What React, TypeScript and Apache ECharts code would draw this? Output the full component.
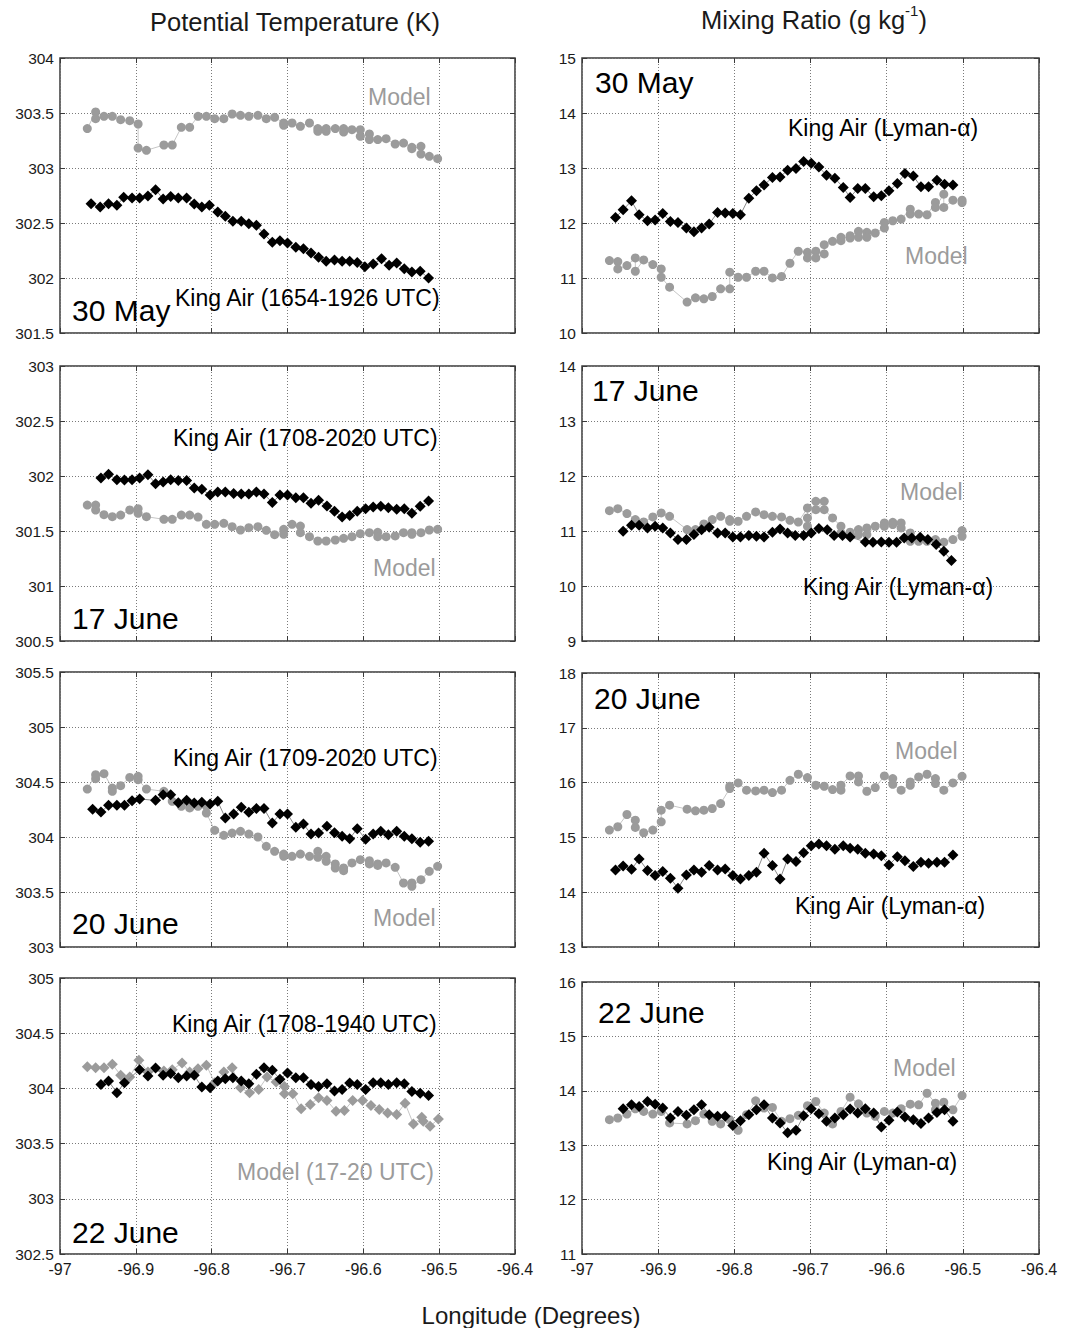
import React, { useEffect, useRef } from "react";
import * as echarts from "echarts";

const FONT = '"Liberation Sans", Arial, Helvetica, sans-serif';

// Longitude axis shared by all panels
const lonMin = -97;
const lonMax = -96.4;
const lonStep = 0.1;

// Y ranges: [min, max, step]
const thetaRanges = [
  [301.5, 304, 0.5],
  [300.5, 303, 0.5],
  [303, 305.5, 0.5],
  [302.5, 305, 0.5],
];
const mixRanges = [
  [10, 15, 1],
  [9, 14, 1],
  [13, 18, 1],
  [11, 16, 1],
];

const dates = ["30 May", "17 June", "20 June", "22 June"];
const thetaKingAirLabels = [
  "King Air (1654-1926 UTC)",
  "King Air (1708-2020 UTC)",
  "King Air (1709-2020 UTC)",
  "King Air (1708-1940 UTC)",
];
const thetaModelLabels = ["Model", "Model", "Model", "Model (17-20 UTC)"];
const mixKingAirLabel = "King Air (Lyman-\u03b1)";
const mixModelLabel = "Model";

// ---- Potential temperature (K): [longitude, value] ----
const may30ThetaKingAir = [
  [-96.959, 302.676], [-96.947, 302.645], [-96.936, 302.676], [-96.925, 302.661], [-96.916, 302.733],
  [-96.905, 302.727], [-96.895, 302.727], [-96.884, 302.745], [-96.874, 302.803], [-96.864, 302.718],
  [-96.854, 302.742], [-96.844, 302.727], [-96.833, 302.727], [-96.823, 302.673], [-96.813, 302.645],
  [-96.803, 302.661], [-96.792, 302.6], [-96.782, 302.561], [-96.772, 302.515], [-96.761, 302.515],
  [-96.751, 302.494], [-96.741, 302.479], [-96.731, 302.4], [-96.72, 302.324], [-96.71, 302.339],
  [-96.7, 302.318], [-96.689, 302.279], [-96.679, 302.267], [-96.669, 302.227], [-96.659, 302.188],
  [-96.649, 302.152], [-96.638, 302.164], [-96.628, 302.152], [-96.618, 302.152], [-96.608, 302.142],
  [-96.598, 302.103], [-96.587, 302.127], [-96.576, 302.176], [-96.566, 302.115], [-96.556, 302.136],
  [-96.546, 302.085], [-96.536, 302.055], [-96.525, 302.061], [-96.514, 302.0],
];
const may30ThetaModel = [
  [-96.964, 303.358], [-96.953, 303.509], [-96.953, 303.448], [-96.942, 303.47], [-96.931, 303.47],
  [-96.92, 303.439], [-96.908, 303.43], [-96.897, 303.4], [-96.897, 303.182], [-96.886, 303.161],
  [-96.863, 303.209], [-96.852, 303.209], [-96.84, 303.37], [-96.829, 303.37], [-96.818, 303.47],
  [-96.807, 303.47], [-96.796, 303.448], [-96.784, 303.448], [-96.773, 303.491], [-96.762, 303.479],
  [-96.751, 303.47], [-96.739, 303.479], [-96.728, 303.448], [-96.717, 303.461], [-96.705, 303.409],
  [-96.705, 303.388], [-96.694, 303.409], [-96.683, 303.379], [-96.671, 303.409], [-96.66, 303.358],
  [-96.66, 303.333], [-96.649, 303.333], [-96.649, 303.358], [-96.637, 303.358], [-96.626, 303.358],
  [-96.626, 303.327], [-96.615, 303.348], [-96.604, 303.348], [-96.604, 303.288], [-96.592, 303.309],
  [-96.592, 303.258], [-96.581, 303.258], [-96.57, 303.267], [-96.558, 303.218], [-96.547, 303.227],
  [-96.536, 303.188], [-96.536, 303.176], [-96.524, 303.197], [-96.524, 303.127], [-96.513, 303.106],
  [-96.502, 303.085],
];
const jun17ThetaKingAir = [
  [-96.946, 301.982], [-96.936, 302.015], [-96.925, 301.967], [-96.915, 301.964], [-96.905, 301.967],
  [-96.895, 301.982], [-96.884, 302.012], [-96.874, 301.93], [-96.864, 301.945], [-96.854, 301.967],
  [-96.844, 301.958], [-96.833, 301.958], [-96.823, 301.891], [-96.813, 301.879], [-96.802, 301.827],
  [-96.792, 301.855], [-96.782, 301.855], [-96.771, 301.842], [-96.761, 301.836], [-96.751, 301.836],
  [-96.741, 301.855], [-96.731, 301.836], [-96.72, 301.758], [-96.71, 301.827], [-96.7, 301.827],
  [-96.689, 301.803], [-96.679, 301.803], [-96.669, 301.752], [-96.659, 301.779], [-96.648, 301.727],
  [-96.638, 301.679], [-96.628, 301.627], [-96.618, 301.642], [-96.608, 301.679], [-96.597, 301.703],
  [-96.587, 301.718], [-96.577, 301.724], [-96.567, 301.712], [-96.556, 301.697], [-96.546, 301.703],
  [-96.536, 301.661], [-96.525, 301.724], [-96.514, 301.773],
];
const jun17ThetaModel = [
  [-96.964, 301.736], [-96.953, 301.736], [-96.953, 301.691], [-96.942, 301.648], [-96.931, 301.63],
  [-96.92, 301.645], [-96.908, 301.691], [-96.897, 301.703], [-96.897, 301.661], [-96.886, 301.63],
  [-96.863, 301.606], [-96.852, 301.606], [-96.84, 301.645], [-96.829, 301.645], [-96.818, 301.627],
  [-96.807, 301.561], [-96.796, 301.561], [-96.784, 301.57], [-96.773, 301.539], [-96.762, 301.509],
  [-96.751, 301.53], [-96.739, 301.539], [-96.728, 301.506], [-96.717, 301.467], [-96.705, 301.515],
  [-96.705, 301.47], [-96.694, 301.561], [-96.683, 301.545], [-96.683, 301.485], [-96.671, 301.448],
  [-96.66, 301.409], [-96.649, 301.409], [-96.637, 301.418], [-96.626, 301.433], [-96.615, 301.448],
  [-96.604, 301.476], [-96.592, 301.485], [-96.581, 301.488], [-96.581, 301.448], [-96.57, 301.448],
  [-96.558, 301.455], [-96.547, 301.485], [-96.536, 301.485], [-96.536, 301.47], [-96.524, 301.485],
  [-96.513, 301.509], [-96.502, 301.515],
];
const jun20ThetaKingAir = [
  [-96.957, 304.252], [-96.946, 304.227], [-96.936, 304.288], [-96.925, 304.288], [-96.915, 304.288],
  [-96.905, 304.33], [-96.895, 304.345], [-96.874, 304.333], [-96.864, 304.385], [-96.854, 304.385],
  [-96.844, 304.312], [-96.833, 304.333], [-96.823, 304.309], [-96.813, 304.315], [-96.802, 304.3],
  [-96.792, 304.324], [-96.782, 304.173], [-96.771, 304.209], [-96.761, 304.27], [-96.751, 304.224],
  [-96.741, 304.258], [-96.731, 304.258], [-96.72, 304.127], [-96.71, 304.209], [-96.7, 304.209],
  [-96.689, 304.088], [-96.679, 304.118], [-96.669, 304.027], [-96.659, 304.036], [-96.648, 304.097],
  [-96.638, 304.039], [-96.628, 304.006], [-96.618, 303.985], [-96.608, 304.076], [-96.597, 303.979],
  [-96.587, 304.027], [-96.577, 304.052], [-96.567, 304.021], [-96.556, 304.052], [-96.546, 304.006],
  [-96.536, 303.985], [-96.525, 303.952], [-96.514, 303.961],
];
const jun20ThetaModel = [
  [-96.964, 304.436], [-96.953, 304.567], [-96.953, 304.53], [-96.942, 304.576], [-96.931, 304.445],
  [-96.931, 304.415], [-96.92, 304.467], [-96.908, 304.542], [-96.897, 304.552], [-96.897, 304.521],
  [-96.886, 304.436], [-96.863, 304.415], [-96.852, 304.324], [-96.84, 304.279], [-96.829, 304.264],
  [-96.818, 304.279], [-96.807, 304.279], [-96.807, 304.218], [-96.796, 304.061], [-96.784, 304.015],
  [-96.773, 304.036], [-96.762, 304.052], [-96.751, 304.027], [-96.739, 304.0], [-96.728, 303.915],
  [-96.717, 303.87], [-96.705, 303.845], [-96.705, 303.824], [-96.694, 303.824], [-96.683, 303.845],
  [-96.671, 303.824], [-96.66, 303.87], [-96.66, 303.815], [-96.649, 303.824], [-96.649, 303.779],
  [-96.637, 303.755], [-96.637, 303.718], [-96.626, 303.718], [-96.626, 303.694], [-96.615, 303.764],
  [-96.604, 303.794], [-96.592, 303.785], [-96.592, 303.755], [-96.581, 303.755], [-96.581, 303.742],
  [-96.57, 303.764], [-96.558, 303.724], [-96.547, 303.582], [-96.536, 303.582], [-96.536, 303.552],
  [-96.524, 303.612], [-96.513, 303.688], [-96.502, 303.733],
];
const jun22ThetaKingAir = [
  [-96.946, 304.036], [-96.936, 304.067], [-96.925, 303.96], [-96.915, 304.052], [-96.895, 304.17],
  [-96.884, 304.112], [-96.874, 304.185], [-96.864, 304.119], [-96.854, 304.134], [-96.844, 304.097],
  [-96.833, 304.112], [-96.823, 304.119], [-96.813, 304.012], [-96.802, 304.006], [-96.792, 304.067],
  [-96.782, 304.088], [-96.772, 304.097], [-96.761, 304.067], [-96.751, 304.043], [-96.741, 304.128],
  [-96.731, 304.188], [-96.72, 304.164], [-96.71, 304.082], [-96.7, 304.14], [-96.689, 304.097],
  [-96.679, 304.097], [-96.669, 304.036], [-96.659, 304.018], [-96.648, 304.043], [-96.638, 303.976],
  [-96.628, 303.991], [-96.618, 304.049], [-96.608, 304.036], [-96.597, 303.991], [-96.587, 304.052],
  [-96.577, 304.052], [-96.567, 304.036], [-96.556, 304.052], [-96.546, 304.043], [-96.536, 303.973],
  [-96.525, 303.957], [-96.514, 303.936],
];
const jun22ThetaModel = [
  [-96.964, 304.195], [-96.953, 304.188], [-96.942, 304.188], [-96.931, 304.219], [-96.92, 304.119],
  [-96.908, 304.103], [-96.896, 304.255], [-96.884, 304.149], [-96.863, 304.158], [-96.852, 304.17],
  [-96.839, 304.231], [-96.829, 304.149], [-96.818, 304.179], [-96.807, 304.21], [-96.796, 304.052],
  [-96.784, 304.149], [-96.773, 304.188], [-96.762, 304.006], [-96.75, 303.96], [-96.738, 303.991],
  [-96.727, 304.103], [-96.715, 304.058], [-96.704, 304.018], [-96.704, 303.951], [-96.693, 303.951],
  [-96.682, 303.815], [-96.67, 303.854], [-96.659, 303.915], [-96.648, 303.891], [-96.636, 303.793],
  [-96.625, 303.799], [-96.614, 303.891], [-96.601, 303.891], [-96.59, 303.845], [-96.579, 303.809],
  [-96.568, 303.778], [-96.556, 303.763], [-96.545, 303.866], [-96.534, 303.678], [-96.523, 303.739],
  [-96.521, 303.702], [-96.512, 303.657], [-96.501, 303.723],
];

// ---- Mixing ratio (g/kg): [longitude, value] ----
const may30MixKingAir = [
  [-96.956, 12.101], [-96.946, 12.24], [-96.935, 12.403], [-96.925, 12.15], [-96.914, 12.041],
  [-96.904, 12.053], [-96.894, 12.174], [-96.884, 12.029], [-96.874, 12.011], [-96.863, 11.908],
  [-96.853, 11.842], [-96.843, 11.908], [-96.833, 11.981], [-96.822, 12.192], [-96.812, 12.18],
  [-96.802, 12.174], [-96.792, 12.15], [-96.781, 12.452], [-96.771, 12.585], [-96.761, 12.693],
  [-96.75, 12.826], [-96.74, 12.838], [-96.73, 12.959], [-96.719, 12.989], [-96.709, 13.116],
  [-96.699, 13.086], [-96.689, 13.019], [-96.679, 12.868], [-96.668, 12.814], [-96.657, 12.645],
  [-96.648, 12.464], [-96.638, 12.627], [-96.628, 12.627], [-96.617, 12.476], [-96.607, 12.494],
  [-96.597, 12.585], [-96.586, 12.717], [-96.576, 12.899], [-96.565, 12.856], [-96.555, 12.657],
  [-96.545, 12.657], [-96.534, 12.778], [-96.524, 12.705], [-96.513, 12.693],
];
const may30MixModel = [
  [-96.964, 11.316], [-96.953, 11.298], [-96.953, 11.165], [-96.941, 11.226], [-96.93, 11.365],
  [-96.93, 11.123], [-96.919, 11.329], [-96.907, 11.244], [-96.896, 11.165], [-96.896, 11.014],
  [-96.885, 10.833], [-96.862, 10.562], [-96.851, 10.64], [-96.84, 10.622], [-96.829, 10.664],
  [-96.818, 10.803], [-96.806, 10.803], [-96.806, 11.105], [-96.795, 11.014], [-96.784, 11.014],
  [-96.772, 11.123], [-96.761, 11.123], [-96.75, 11.002], [-96.738, 11.027], [-96.727, 11.268],
  [-96.716, 11.486], [-96.704, 11.467], [-96.704, 11.365], [-96.693, 11.486], [-96.693, 11.365],
  [-96.682, 11.437], [-96.682, 11.606], [-96.671, 11.667], [-96.66, 11.679], [-96.66, 11.739],
  [-96.648, 11.727], [-96.648, 11.769], [-96.637, 11.848], [-96.637, 11.739], [-96.626, 11.83],
  [-96.626, 11.739], [-96.615, 11.818], [-96.603, 11.908], [-96.603, 12.011], [-96.592, 12.041],
  [-96.581, 12.071], [-96.569, 12.252], [-96.569, 12.162], [-96.558, 12.162], [-96.547, 12.15],
  [-96.536, 12.373], [-96.536, 12.283], [-96.525, 12.524], [-96.525, 12.283], [-96.513, 12.415],
  [-96.501, 12.415], [-96.501, 12.373],
];
const jun17MixKingAir = [
  [-96.946, 10.995], [-96.935, 11.104], [-96.925, 11.104], [-96.914, 11.056], [-96.904, 11.086],
  [-96.894, 11.056], [-96.884, 10.965], [-96.874, 10.844], [-96.863, 10.844], [-96.853, 10.935],
  [-96.843, 11.025], [-96.833, 11.068], [-96.822, 10.965], [-96.812, 10.965], [-96.802, 10.892],
  [-96.792, 10.892], [-96.781, 10.917], [-96.771, 10.904], [-96.761, 10.892], [-96.75, 10.977],
  [-96.74, 11.037], [-96.73, 10.965], [-96.72, 10.917], [-96.709, 10.917], [-96.699, 10.965],
  [-96.689, 11.044], [-96.678, 11.025], [-96.669, 10.917], [-96.658, 10.917], [-96.648, 10.892],
  [-96.628, 10.802], [-96.618, 10.796], [-96.607, 10.802], [-96.597, 10.796], [-96.587, 10.796],
  [-96.577, 10.874], [-96.567, 10.874], [-96.556, 10.886], [-96.546, 10.844], [-96.535, 10.753],
  [-96.525, 10.632], [-96.515, 10.463],
];
const jun17MixModel = [
  [-96.964, 11.37], [-96.953, 11.406], [-96.941, 11.316], [-96.93, 11.207], [-96.919, 11.164],
  [-96.907, 11.255], [-96.896, 11.328], [-96.885, 11.267], [-96.862, 11.025], [-96.851, 11.025],
  [-96.84, 11.128], [-96.829, 11.207], [-96.818, 11.267], [-96.806, 11.207], [-96.806, 11.177],
  [-96.795, 11.177], [-96.784, 11.267], [-96.772, 11.346], [-96.761, 11.297], [-96.75, 11.267],
  [-96.738, 11.255], [-96.727, 11.195], [-96.716, 11.164], [-96.704, 11.418], [-96.704, 11.237],
  [-96.704, 11.086], [-96.693, 11.539], [-96.693, 11.388], [-96.682, 11.539], [-96.682, 11.388],
  [-96.671, 11.237], [-96.66, 11.086], [-96.66, 10.965], [-96.648, 10.977], [-96.637, 11.025],
  [-96.637, 10.935], [-96.626, 11.056], [-96.626, 10.935], [-96.615, 11.086], [-96.603, 11.146],
  [-96.603, 11.086], [-96.592, 11.158], [-96.592, 11.116], [-96.581, 11.146], [-96.581, 11.056],
  [-96.569, 10.965], [-96.569, 10.814], [-96.558, 10.814], [-96.547, 10.814], [-96.536, 10.844],
  [-96.525, 10.796], [-96.513, 10.844], [-96.501, 11.007], [-96.501, 10.904],
];
const jun20MixKingAir = [
  [-96.956, 14.406], [-96.946, 14.479], [-96.935, 14.418], [-96.925, 14.606], [-96.914, 14.394],
  [-96.904, 14.303], [-96.894, 14.376], [-96.884, 14.255], [-96.874, 14.073], [-96.863, 14.315],
  [-96.853, 14.406], [-96.843, 14.364], [-96.833, 14.485], [-96.822, 14.406], [-96.812, 14.424],
  [-96.802, 14.303], [-96.792, 14.242], [-96.781, 14.303], [-96.771, 14.364], [-96.761, 14.709],
  [-96.75, 14.485], [-96.74, 14.242], [-96.73, 14.606], [-96.719, 14.558], [-96.709, 14.721],
  [-96.699, 14.848], [-96.689, 14.879], [-96.679, 14.848], [-96.668, 14.782], [-96.657, 14.848],
  [-96.648, 14.8], [-96.638, 14.782], [-96.628, 14.709], [-96.617, 14.697], [-96.607, 14.667],
  [-96.597, 14.497], [-96.586, 14.648], [-96.576, 14.576], [-96.565, 14.467], [-96.555, 14.545],
  [-96.545, 14.527], [-96.534, 14.545], [-96.524, 14.545], [-96.513, 14.679],
];
const jun20MixModel = [
  [-96.964, 15.133], [-96.953, 15.194], [-96.941, 15.418], [-96.93, 15.315], [-96.93, 15.182],
  [-96.919, 15.085], [-96.907, 15.133], [-96.896, 15.285], [-96.896, 15.497], [-96.885, 15.588],
  [-96.862, 15.515], [-96.851, 15.485], [-96.84, 15.497], [-96.829, 15.527], [-96.818, 15.618],
  [-96.806, 15.891], [-96.806, 15.933], [-96.795, 15.994], [-96.784, 15.861], [-96.772, 15.848],
  [-96.761, 15.861], [-96.75, 15.818], [-96.738, 15.861], [-96.727, 16.042], [-96.716, 16.152],
  [-96.704, 16.091], [-96.693, 15.952], [-96.682, 15.933], [-96.671, 15.873], [-96.66, 15.861],
  [-96.66, 15.952], [-96.648, 16.121], [-96.637, 16.121], [-96.637, 16.012], [-96.626, 15.842],
  [-96.615, 15.909], [-96.603, 16.121], [-96.592, 16.073], [-96.592, 15.97], [-96.581, 15.861],
  [-96.569, 15.952], [-96.569, 16.012], [-96.558, 16.103], [-96.547, 16.152], [-96.536, 16.073],
  [-96.536, 15.982], [-96.525, 15.861], [-96.513, 15.994], [-96.501, 16.115],
];
const jun22MixKingAir = [
  [-96.946, 13.67], [-96.935, 13.743], [-96.925, 13.712], [-96.914, 13.803], [-96.904, 13.755],
  [-96.894, 13.682], [-96.884, 13.5], [-96.874, 13.621], [-96.863, 13.549], [-96.853, 13.652],
  [-96.843, 13.743], [-96.833, 13.561], [-96.822, 13.53], [-96.812, 13.53], [-96.802, 13.36],
  [-96.792, 13.451], [-96.781, 13.561], [-96.771, 13.652], [-96.761, 13.743], [-96.75, 13.5],
  [-96.74, 13.409], [-96.73, 13.227], [-96.719, 13.275], [-96.709, 13.542], [-96.699, 13.67],
  [-96.689, 13.579], [-96.679, 13.439], [-96.668, 13.5], [-96.657, 13.561], [-96.648, 13.664],
  [-96.638, 13.591], [-96.628, 13.67], [-96.617, 13.591], [-96.607, 13.336], [-96.597, 13.458],
  [-96.586, 13.609], [-96.576, 13.518], [-96.565, 13.47], [-96.555, 13.397], [-96.545, 13.5],
  [-96.534, 13.603], [-96.524, 13.652], [-96.513, 13.439],
];
const jun22MixModel = [
  [-96.964, 13.47], [-96.953, 13.5], [-96.941, 13.573], [-96.93, 13.67], [-96.919, 13.621],
  [-96.907, 13.573], [-96.896, 13.621], [-96.885, 13.409], [-96.862, 13.391], [-96.851, 13.451],
  [-96.84, 13.573], [-96.829, 13.439], [-96.818, 13.391], [-96.806, 13.47], [-96.795, 13.275],
  [-96.784, 13.561], [-96.772, 13.816], [-96.761, 13.682], [-96.75, 13.694], [-96.738, 13.439],
  [-96.727, 13.488], [-96.716, 13.549], [-96.704, 13.725], [-96.693, 13.803], [-96.682, 13.591],
  [-96.671, 13.391], [-96.66, 13.621], [-96.648, 13.882], [-96.637, 13.761], [-96.626, 13.591],
  [-96.615, 13.53], [-96.603, 13.621], [-96.592, 13.591], [-96.581, 13.67], [-96.569, 13.755],
  [-96.558, 13.743], [-96.547, 13.955], [-96.536, 13.773], [-96.536, 13.652], [-96.525, 13.791],
  [-96.513, 13.652], [-96.501, 13.913],
];

const thetaKingAir = [may30ThetaKingAir, jun17ThetaKingAir, jun20ThetaKingAir, jun22ThetaKingAir];
const thetaModel = [may30ThetaModel, jun17ThetaModel, jun20ThetaModel, jun22ThetaModel];
const mixKingAir = [may30MixKingAir, jun17MixKingAir, jun20MixKingAir, jun22MixKingAir];
const mixModel = [may30MixModel, jun17MixModel, jun20MixModel, jun22MixModel];

// Panel boxes in page pixels
const leftBoxes = [
  { left: 60, top: 58, width: 455, height: 275 },
  { left: 60, top: 366, width: 455, height: 275 },
  { left: 60, top: 672, width: 455, height: 275 },
  { left: 60, top: 978, width: 455, height: 276 },
];
const rightBoxes = [
  { left: 582, top: 58, width: 457, height: 275 },
  { left: 582, top: 366, width: 457, height: 275 },
  { left: 582, top: 673, width: 457, height: 274 },
  { left: 582, top: 982, width: 457, height: 272 },
];

// Annotation anchors: [x of left edge, y of text middle]
const leftDatePos = [[72, 310], [72, 618], [72, 923], [72, 1232]];
const leftKingAirPos = [[175, 298], [173, 438], [173, 758], [172, 1024]];
const leftModelPos = [[368, 97], [373, 568], [373, 918], [237, 1172]];
const rightDatePos = [[595, 82], [592, 390], [594, 698], [598, 1012]];
const rightKingAirPos = [[788, 128], [803, 587], [795, 906], [767, 1162]];
const rightModelPos = [[905, 256], [900, 492], [895, 751], [893, 1068]];

const BLACK = "#000000";
const GREY = "#9b9b9b";

function textEl(text: string, x: number, y: number, size: number, color: string, align = "left") {
  return {
    type: "text",
    x,
    y,
    silent: true,
    z: 50,
    style: {
      text,
      fill: color,
      fontSize: size,
      fontFamily: FONT,
      align,
      verticalAlign: "middle",
      textAlign: align,
      textVerticalAlign: "middle",
    },
  };
}

export default function App() {
  const ref = useRef<HTMLDivElement>(null);

  useEffect(() => {
    if (!ref.current) return;
    const chart = echarts.init(ref.current, undefined, { renderer: "svg" });

    const boxes = [...leftBoxes, ...rightBoxes];
    const ranges = [...thetaRanges, ...mixRanges];
    const kingAir = [...thetaKingAir, ...mixKingAir];
    const model = [...thetaModel, ...mixModel];
    const n = boxes.length;

    const grid = boxes.map((b) => ({
      ...b,
      show: true,
      borderColor: "#3a3a3a",
      borderWidth: 1.5,
      backgroundColor: "rgba(0,0,0,0)",
      containLabel: false,
    }));

    const tickStyle = { show: true, inside: true, length: 5, lineStyle: { color: "#3a3a3a", width: 1 } };
    const gridLine = { show: true, lineStyle: { color: "#7a7a7a", width: 1, type: [1, 2] } };

    const xAxis: any[] = [];
    const yAxis: any[] = [];
    for (let i = 0; i < n; i++) {
      const bottomRow = i % 4 === 3;
      xAxis.push({
        gridIndex: i,
        type: "value",
        min: lonMin,
        max: lonMax,
        interval: lonStep,
        position: "bottom",
        axisLine: { show: false },
        axisTick: tickStyle,
        splitLine: gridLine,
        axisLabel: {
          show: bottomRow,
          fontSize: 16,
          fontFamily: FONT,
          color: "#1a1a1a",
          margin: 7,
          showMinLabel: true,
          showMaxLabel: true,
        },
      });
    }
    for (let i = 0; i < n; i++) {
      xAxis.push({
        gridIndex: i,
        type: "value",
        min: lonMin,
        max: lonMax,
        interval: lonStep,
        position: "top",
        axisLine: { show: false },
        axisTick: tickStyle,
        splitLine: { show: false },
        axisLabel: { show: false },
      });
    }
    for (let i = 0; i < n; i++) {
      const [mn, mx, st] = ranges[i];
      yAxis.push({
        gridIndex: i,
        type: "value",
        min: mn,
        max: mx,
        interval: st,
        position: "left",
        axisLine: { show: false },
        axisTick: tickStyle,
        splitLine: gridLine,
        axisLabel: {
          show: true,
          fontSize: 15.5,
          fontFamily: FONT,
          color: "#1a1a1a",
          margin: 6,
          showMinLabel: true,
          showMaxLabel: true,
        },
      });
    }
    for (let i = 0; i < n; i++) {
      const [mn, mx, st] = ranges[i];
      yAxis.push({
        gridIndex: i,
        type: "value",
        min: mn,
        max: mx,
        interval: st,
        position: "right",
        axisLine: { show: false },
        axisTick: tickStyle,
        splitLine: { show: false },
        axisLabel: { show: false },
      });
    }

    const series: any[] = [];
    for (let i = 0; i < n; i++) {
      const diamondModel = i === 3;
      series.push({
        type: "line",
        name: "Model",
        xAxisIndex: i,
        yAxisIndex: i,
        data: model[i],
        showSymbol: true,
        symbol: diamondModel ? "diamond" : "circle",
        symbolSize: diamondModel ? 11 : 9,
        itemStyle: { color: GREY },
        lineStyle: { color: "#c6c6c6", width: 1 },
        z: 2,
        silent: true,
      });
      series.push({
        type: "line",
        name: "King Air",
        xAxisIndex: i,
        yAxisIndex: i,
        data: kingAir[i],
        showSymbol: true,
        symbol: "diamond",
        symbolSize: 11,
        itemStyle: { color: BLACK },
        lineStyle: { color: "#8a8a8a", width: 1 },
        z: 3,
        silent: true,
      });
    }

    const graphic: any[] = [];
    // column headers and shared axis title
    graphic.push(textEl("Potential Temperature (K)", 295, 22, 25.5, "#1a1a1a", "center"));
    graphic.push({
      type: "text",
      x: 701,
      y: 18,
      silent: true,
      style: {
        text: "{a|Mixing Ratio (g kg}{b|-1}{a|)}",
        fill: "#1a1a1a",
        fontFamily: FONT,
        align: "left",
        verticalAlign: "middle",
        textAlign: "left",
        textVerticalAlign: "middle",
        rich: {
          a: { fontSize: 25.5, fontFamily: FONT, fill: "#1a1a1a", lineHeight: 30, verticalAlign: "bottom" },
          b: { fontSize: 15, fontFamily: FONT, fill: "#1a1a1a", lineHeight: 30, verticalAlign: "top" },
        },
      },
    });
    graphic.push(textEl("Longitude (Degrees)", 531, 1315, 24, "#1a1a1a", "center"));

    for (let r = 0; r < 4; r++) {
      graphic.push(textEl(dates[r], leftDatePos[r][0], leftDatePos[r][1], 30, BLACK));
      graphic.push(textEl(thetaKingAirLabels[r], leftKingAirPos[r][0], leftKingAirPos[r][1], 23, BLACK));
      graphic.push(textEl(thetaModelLabels[r], leftModelPos[r][0], leftModelPos[r][1], 23, GREY));
      graphic.push(textEl(dates[r], rightDatePos[r][0], rightDatePos[r][1], 30, BLACK));
      graphic.push(textEl(mixKingAirLabel, rightKingAirPos[r][0], rightKingAirPos[r][1], 23, BLACK));
      graphic.push(textEl(mixModelLabel, rightModelPos[r][0], rightModelPos[r][1], 23, GREY));
    }

    chart.setOption({
      animation: false,
      backgroundColor: "#ffffff",
      textStyle: { fontFamily: FONT },
      grid,
      xAxis,
      yAxis,
      series,
      graphic,
    });

    return () => chart.dispose();
  }, []);

  return (
    <div
      ref={ref}
      style={{ position: "absolute", left: 0, top: 0, width: 1065, height: 1328, background: "#fff" }}
    />
  );
}
